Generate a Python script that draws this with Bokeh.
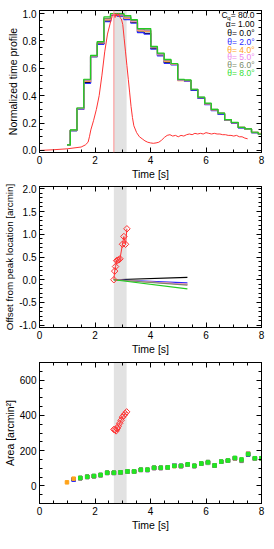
import numpy as np
from bokeh.plotting import figure
from bokeh.layouts import column
from bokeh.models import (FixedTicker, BoxAnnotation, Span, Label, LinearAxis,
                          Range1d, PrintfTickFormatter, CustomLabelingPolicy)
from bokeh.embed import file_html
from bokeh.resources import INLINE

nan = float("nan")
FONT = "Liberation Sans"

# ---------------- data ----------------
band_start = 2.68
band_end = 3.14
peak_time = 2.68

t_bins = [0.99, 1.23, 1.47, 1.72, 1.96, 2.20, 2.44, 2.68, 2.92, 3.17, 3.41, 3.65, 3.89, 4.13, 4.37,
          4.62, 4.86, 5.10, 5.34, 5.58, 5.83, 6.07, 6.31, 6.55, 6.79, 7.04, 7.28, 7.52, 7.76, 8.00]

prof_th0 = [0.04, 0.145, 0.30, 0.495, 0.685, 0.78, 0.945, 0.99, 0.985, 0.96, 0.935, 0.865, 0.855, 0.745, 0.695,
            0.64, 0.63, 0.515, 0.51, 0.44, 0.385, 0.34, 0.295, 0.267, 0.222, 0.20, 0.166, 0.155, 0.13, 0.12]
prof_th2 = [0.04, 0.145, 0.30, 0.49, 0.685, 0.775, 0.94, 0.99, 0.98, 0.955, 0.93, 0.86, 0.85, 0.74, 0.69,
            0.635, 0.625, 0.515, 0.505, 0.44, 0.38, 0.335, 0.29, 0.265, 0.22, 0.20, 0.165, 0.155, 0.13, 0.12]
prof_th4 = [0.04, 0.147, 0.305, 0.505, 0.69, 0.785, 0.955, 0.995, 0.99, 0.965, 0.94, 0.875, 0.87, 0.75, 0.70,
            0.65, 0.63, 0.51, 0.51, 0.445, 0.385, 0.34, 0.297, 0.27, 0.223, 0.203, 0.168, 0.156, 0.132, 0.125]
prof_th5 = [0.04, 0.147, 0.305, 0.51, 0.69, 0.787, 0.96, 0.995, 0.99, 0.97, 0.945, 0.88, 0.875, 0.752, 0.70,
            0.655, 0.632, 0.512, 0.51, 0.445, 0.387, 0.342, 0.298, 0.27, 0.224, 0.203, 0.168, 0.156, 0.132, 0.12]
prof_th6 = [0.04, 0.148, 0.31, 0.515, 0.69, 0.79, 0.965, 1.0, 0.995, 0.975, 0.95, 0.885, 0.88, 0.755, 0.705,
            0.66, 0.633, 0.515, 0.512, 0.446, 0.388, 0.343, 0.30, 0.272, 0.225, 0.204, 0.169, 0.157, 0.133, 0.12]
prof_th8 = [0.04, 0.15, 0.31, 0.52, 0.695, 0.795, 0.975, 1.0, 1.0, 0.985, 0.955, 0.89, 0.89, 0.76, 0.71,
            0.665, 0.635, 0.52, 0.515, 0.447, 0.39, 0.345, 0.30, 0.273, 0.225, 0.205, 0.169, 0.157, 0.133, 0.12]

lc_t = [0.0, 0.5, 1.0, 1.5, 1.65, 1.75, 1.8, 1.85, 1.95, 2.05, 2.15, 2.25, 2.35, 2.45, 2.55, 2.62, 2.68,
        2.72, 2.76, 2.8, 2.85, 2.9, 2.95, 3.0, 3.05, 3.1, 3.15, 3.2, 3.25, 3.3, 3.35, 3.4, 3.5, 3.6, 3.7,
        3.8, 3.9, 4.0, 4.1, 4.2, 4.3, 4.4, 4.5, 4.6, 4.7, 4.8, 4.9, 5.0, 5.1, 5.2, 5.3, 5.4, 5.5, 5.6,
        5.7, 5.8, 5.9, 6.0, 6.1, 6.2, 6.3, 6.4, 6.5, 6.6, 6.7, 6.8, 6.9, 7.0, 7.1, 7.2, 7.3, 7.4, 7.5]
lc_v = [0.0, 0.005, 0.012, 0.025, 0.04, 0.06, 0.10, 0.15, 0.22, 0.30, 0.40, 0.55, 0.72, 0.85, 0.93, 0.98, 1.0,
        0.97, 1.0, 0.98, 1.0, 0.97, 0.96, 0.92, 0.82, 0.72, 0.62, 0.52, 0.42, 0.32, 0.24, 0.18, 0.13, 0.10, 0.085,
        0.07, 0.06, 0.055, 0.052, 0.055, 0.06, 0.075, 0.095, 0.11, 0.115, 0.105, 0.11, 0.10, 0.11, 0.105, 0.115,
        0.12, 0.115, 0.125, 0.12, 0.125, 0.12, 0.13, 0.125, 0.12, 0.125, 0.12, 0.12, 0.115, 0.115, 0.11, 0.11,
        0.105, 0.11, 0.10, 0.10, 0.09, 0.085]

obs_off_t = [2.68, 2.71, 2.74, 2.78, 2.82, 2.86, 2.90, 2.99, 3.04, 3.10, 3.15]
obs_off_v = [0.0, 0.19, 0.29, 0.42, 0.43, 0.44, 0.46, 0.78, 0.95, 0.78, 1.12]

mod_off_t = [2.68, 5.33]
off_th0 = [0.0, 0.05]
off_th2 = [0.0, -0.07]
off_th4 = [0.0, -0.10]
off_th5 = [0.0, -0.10]
off_th6 = [0.0, -0.12]
off_th8 = [0.0, -0.20]

obs_area_t = [2.68, 2.72, 2.76, 2.80, 2.84, 2.89, 2.94, 2.99, 3.04, 3.09, 3.14]
obs_area_v = [320, 318, 312, 325, 338, 355, 372, 390, 400, 410, 420]

area_th0 = [nan, 37, 44, 51, 55, 61, 74, 74, 76, 81, 81, 91, 91, 102, 102, 104, 115, 113, 120, 113, 126, 131, 115, 137, 143, 156, 146, 178, 155, 156]
area_th2 = [nan, 35, 44, 51, 55, 61, 74, 74, 76, 81, 81, 91, 90, 102, 102, 104, 117, 113, 120, 113, 126, 131, 115, 137, 143, 156, 147, 178, 155, 156]
area_th4 = [20, 41, 44, 51, 55, 61, 74, 74, 76, 81, 81, 91, 91, 102, 102, 104, 112, 112, 120, 113, 126, 131, 115, 137, 143, 156, 148, 185, 155, 156]
area_th5 = [nan, nan, 44, 51, 55, 61, 74, 74, 76, 81, 81, 91, 91, 102, 102, 104, 116, 112, 120, 113, 126, 131, 115, 137, 143, 157, 148, 183, 155, 156]
area_th6 = [nan, nan, 44, 51, 55, 61, 74, 74, 76, 81, 81, 91, 91, 102, 102, 104, 113, 112, 121, 113, 126, 136, 115, 137, 143, 157, 142, 180, 156, 156]
area_th8 = [nan, nan, 45, 52, 56, 62, 75, 75, 77, 82, 82, 92, 92, 103, 103, 105, 114, 114, 122, 114, 127, 133, 116, 138, 144, 159, 150, 181, 157, 157]

legend_lines = ["α= 1.00", "θ= 0.0°", "θ= 2.0°", "θ= 4.0°", "θ= 5.0°", "θ= 6.0°", "θ= 8.0°"]

C_BLACK = "black"
C_BLUE = "#2a2aff"
C_ORANGE = "#ffa31a"
C_VIOLET = "#ee88ee"
C_OLIVE = "#7a8a6a"
C_GREEN = "#22cc22"
C_GREEN_PT = "#22e622"
C_RED = "#ff3333"
series_colors = [C_BLACK, C_BLUE, C_ORANGE, C_VIOLET, C_OLIVE, C_GREEN]
point_colors = [C_BLACK, C_BLUE, C_ORANGE, C_VIOLET, C_OLIVE, C_GREEN_PT]
legend_colors = [C_BLACK, C_BLACK, C_BLUE, C_ORANGE, C_VIOLET, C_OLIVE, "#33e033"]

HIDE_ALL = "const all = [...indices]; for (const i of all) { indices.unset(i) }"


def make_fig(height, top, yr, yticks, yminor, yfmt, ylabel, ylabel_size="10.5px"):
    p = figure(width=266, height=height, output_backend="svg", toolbar_location=None,
               x_range=Range1d(0, 8), y_range=Range1d(*yr),
               min_border_left=39, min_border_right=3, min_border_top=top, min_border_bottom=29)
    p.background_fill_color = "white"
    p.border_fill_color = "white"
    p.outline_line_color = "black"
    p.grid.visible = False
    xt = FixedTicker(ticks=[0, 2, 4, 6, 8], minor_ticks=list(np.arange(0, 8.01, 0.5)))
    yt = FixedTicker(ticks=yticks, minor_ticks=yminor)
    for ax in p.xaxis:
        ax.ticker = xt
        ax.formatter = PrintfTickFormatter(format="%d")
        ax.axis_label = "Time [s]"
    for ax in p.yaxis:
        ax.ticker = yt
        ax.formatter = PrintfTickFormatter(format=yfmt)
        ax.axis_label = ylabel
    top_ax = LinearAxis(ticker=xt, major_label_text_font_size="1px", major_label_standoff=0,
                        major_label_policy=CustomLabelingPolicy(code=HIDE_ALL))
    right_ax = LinearAxis(ticker=yt, major_label_text_font_size="1px", major_label_standoff=0,
                          major_label_policy=CustomLabelingPolicy(code=HIDE_ALL))
    p.add_layout(top_ax, "above")
    p.add_layout(right_ax, "right")
    for ax in list(p.xaxis) + list(p.yaxis):
        ax.major_tick_in = 5
        ax.major_tick_out = 0
        ax.minor_tick_in = 3
        ax.minor_tick_out = 0
        ax.axis_line_color = "black"
        ax.major_tick_line_color = "black"
        ax.minor_tick_line_color = "black"
        ax.major_label_text_font = FONT
        ax.major_label_text_color = "black"
        ax.axis_label_text_font = FONT
        ax.axis_label_text_font_style = "normal"
        ax.axis_label_text_font_size = "10.5px"
        ax.axis_label_text_color = "black"
        ax.axis_label_standoff = 1
    for ax in [p.below[0], p.left[0]]:
        ax.major_label_text_font_size = "10px"
        ax.major_label_standoff = 3
    p.left[0].axis_label_text_font_size = ylabel_size
    band = BoxAnnotation(left=band_start, right=band_end, fill_color="#e2e2e2", fill_alpha=1.0,
                         line_alpha=0, level="underlay")
    p.add_layout(band)
    return p


def open_diamonds(p, x, y):
    p.scatter(x, y, marker="square", angle=np.pi / 4, size=4.6, fill_alpha=0,
              line_color=C_RED, line_width=1)


# ---------------- panel 1 ----------------
p1 = make_fig(182, 10, (-0.015, 1.022), [0, 0.2, 0.4, 0.6, 0.8, 1.0],
              list(np.arange(0, 1.001, 0.05)), "%.1f", "Normalized time profile")
p1.add_layout(Span(location=peak_time, dimension="height", line_color="#ff9090", line_width=1))
for prof, col in zip([prof_th0, prof_th2, prof_th4, prof_th5, prof_th6, prof_th8], series_colors):
    p1.step(t_bins, prof, mode="center", line_color=col, line_width=1.2)
p1.line(lc_t, lc_v, line_color=C_RED, line_width=1)

leg_x = 7.75
leg_y = [0.92, 0.857, 0.795, 0.737, 0.679, 0.623, 0.565]
p1.add_layout(Label(x=leg_x, y=0.986, text="= 80.0", text_align="right", text_baseline="middle",
                    text_font=FONT, text_font_size="8.5px", text_color="black"))
p1.add_layout(Label(x=leg_x, y=0.986, x_offset=-24, y_offset=-2.5, text="q", text_align="right",
                    text_baseline="middle", text_font=FONT, text_font_size="6px", text_color="black"))
p1.add_layout(Label(x=leg_x, y=0.986, x_offset=-27, text="C", text_align="right", text_baseline="middle",
                    text_font=FONT, text_font_size="8.5px", text_color="black"))
for txt, yy, col in zip(legend_lines, leg_y, legend_colors):
    p1.add_layout(Label(x=leg_x, y=yy, text=txt, text_align="right", text_baseline="middle",
                        text_font=FONT, text_font_size="8.5px", text_color=col))

# ---------------- panel 2 ----------------
p2 = make_fig(175, 4, (-1.05, 2.05), [-1.0, -0.5, 0.0, 0.5, 1.0, 1.5, 2.0],
              list(np.arange(-1.0, 2.001, 0.1)), "%.1f", "Offset from peak location [arcmin]",
              ylabel_size="9.8px")
for off, col in zip([off_th0, off_th2, off_th4, off_th5, off_th6, off_th8], series_colors):
    p2.line(mod_off_t, off, line_color=col, line_width=1.2)
p2.line(obs_off_t, obs_off_v, line_color=C_RED, line_width=1)
open_diamonds(p2, obs_off_t, obs_off_v)

# ---------------- panel 3 ----------------
p3 = make_fig(176, 5, (-100, 700), [0, 200, 400, 600],
              list(np.arange(-100, 701, 50)), "%d", "Area [arcmin²]")
for ar, col in zip([area_th0, area_th2, area_th4, area_th5, area_th6, area_th8], point_colors):
    p3.scatter(t_bins, ar, marker="square", size=3.5, fill_color=col, line_color=col)
p3.line(obs_area_t, obs_area_v, line_color=C_RED, line_width=1)
open_diamonds(p3, obs_area_t, obs_area_v)

layout = column(p1, p2, p3, spacing=0)
open("out.html", "w").write(file_html(layout, INLINE))
